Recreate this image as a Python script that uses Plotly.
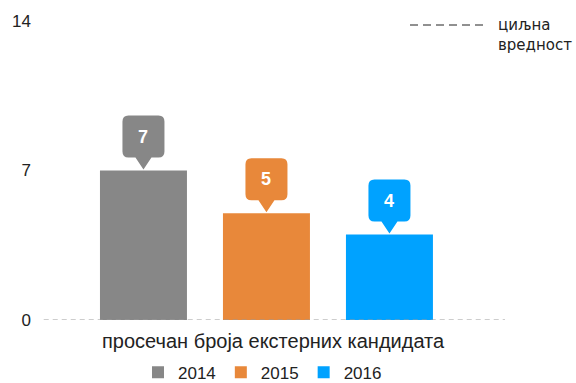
import plotly.graph_objects as go

categories = ["просечан броја екстерних кандидата"]
years = ["2014", "2015", "2016"]
values = [7, 5, 4]
colors = ["#878787", "#E8883A", "#00A2FF"]
yticks = [0, 7, 14]
target_label = "циљна<br>вредност"

W, H = 576, 383
ml, mr, mt, mb = 40, 71, 21, 63
bargap = 0.2065
bargroupgap = 0.2927

fig = go.Figure()
for yr, v, c in zip(years, values, colors):
    fig.add_trace(go.Bar(x=categories, y=[v], name=yr, marker=dict(color=c, line=dict(width=0)),
                         hoverinfo="skip"))

# callouts above each bar
slot = (1 - bargap) / len(years)
callout = ("M 0,1 L -8,13 L -15,13 Q -21,13 -21,19 L -21,49 Q -21,55 -15,55 "
           "L 15,55 Q 21,55 21,49 L 21,19 Q 21,13 15,13 L 8,13 Z")
for i, (v, c) in enumerate(zip(values, colors)):
    xc = (i - (len(years) - 1) / 2) * slot
    fig.add_shape(type="path", xref="x", yref="y", xsizemode="pixel", ysizemode="pixel",
                  xanchor=xc, yanchor=v, path=callout, fillcolor=c, line=dict(width=0))
    fig.add_annotation(x=xc, y=v, xref="x", yref="y", yshift=34, text=f"<b>{v}</b>",
                       showarrow=False, font=dict(color="white", size=18,
                                                  family="Liberation Sans, Arial"))

# dashed zero line
fig.add_shape(type="line", xref="paper", yref="y", x0=0.008, x1=1, y0=0, y1=0,
              line=dict(color="#9a9a9a", width=1, dash="5px,4px"), layer="above")

# category label
fig.add_annotation(x=(273 - ml) / 465, y=0, xref="paper", yref="paper", yshift=-21,
                   yanchor="middle", text=categories[0], showarrow=False,
                   font=dict(size=20, color="#222", family="Liberation Sans, Arial"))

# target legend (top right)
fig.add_shape(type="line", xref="paper", yref="paper", x0=(410 - ml) / 465, x1=(486 - ml) / 465,
              y0=(320 - 25) / 299, y1=(320 - 25) / 299,
              line=dict(color="#222", width=1, dash="8px,5px"))
fig.add_annotation(x=(496 - ml) / 465, y=(320 - 35) / 299, xref="paper", yref="paper",
                   xanchor="left", yanchor="middle", align="left", text=target_label,
                   showarrow=False, font=dict(size=15, color="#222", family="DejaVu Sans"))

fig.update_layout(
    width=W, height=H,
    margin=dict(l=ml, r=mr, t=mt, b=mb),
    paper_bgcolor="white", plot_bgcolor="white",
    barmode="group", bargap=bargap, bargroupgap=bargroupgap,
    showlegend=True,
    legend=dict(orientation="h", x=(138 - ml) / 465, xanchor="left", yref="container", y=0.027,
                yanchor="middle", font=dict(size=17, color="#222", family="Liberation Sans, Arial"),
                traceorder="normal", itemclick=False),
    xaxis=dict(range=[-0.487, 0.513], showticklabels=False, showgrid=False, zeroline=False,
               showline=False, fixedrange=True),
    yaxis=dict(range=[0, 14], tickvals=yticks, ticktext=[str(t) for t in yticks],
               showgrid=False, zeroline=False, showline=False, ticks="",
               ticklabelstandoff=8,
               tickfont=dict(size=17, color="#222", family="Liberation Sans, Arial")),
    font=dict(family="Liberation Sans, Arial"),
)

fig.write_html("out.html", config={"displayModeBar": False},
               post_script="document.body.style.margin='0';document.body.style.padding='0';")
